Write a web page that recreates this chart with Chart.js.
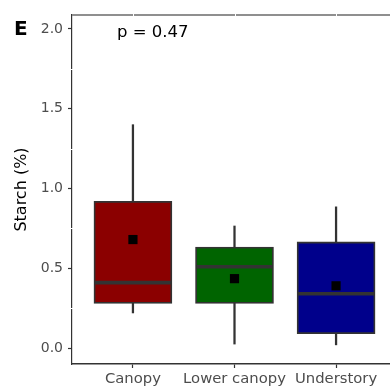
<!DOCTYPE html>
<html>
<head>
<meta charset="utf-8">
<script src="https://cdn.jsdelivr.net/npm/chart.js@4"></script>
<style>
  html, body { margin: 0; padding: 0; background: #fff; overflow: hidden; }
  #wrap { width: 400px; height: 390px; }
</style>
</head>
<body>
<div id="wrap"><canvas id="myChart" width="400" height="390"></canvas></div>
<script>
// data
const categories = ['Canopy', 'Lower canopy', 'Understory'];
const whiskerLow = [0.22, 0.025, 0.02];
const q1 = [0.28, 0.28, 0.09];
const medians = [0.41, 0.51, 0.34];
const q3 = [0.92, 0.633, 0.665];
const whiskerHigh = [1.40, 0.765, 0.885];
const means = [0.68, 0.435, 0.39];
const boxColors = ['#8b0000', '#006400', '#00008b'];
const yTicks = [0, 0.5, 1, 1.5, 2];
const pLabel = 'p = 0.47';
const panelLabel = 'E';

const FONT = "'DejaVu Sans', sans-serif";

function pos(i) { return i + 1; }

const extraDraw = {
    id: 'extraDraw',
    afterDraw(chart) {
        const ctx = chart.ctx;
        const area = chart.chartArea;
        const xs = chart.scales.x;
        const ys = chart.scales.y;
        ctx.save();
        // grey top border
        ctx.strokeStyle = '#8f8f8f';
        ctx.lineWidth = 2;
        ctx.beginPath();
        ctx.moveTo(area.left, area.top);
        ctx.lineTo(area.right, area.top);
        ctx.stroke();
        // white grid lines showing through the borders
        ctx.strokeStyle = '#ffffff';
        ctx.lineWidth = 1;
        categories.forEach((c, i) => {
            const x = Math.round(xs.getPixelForValue(pos(i))) + 0.5;
            ctx.beginPath();
            ctx.moveTo(x, area.top - 1.5);
            ctx.lineTo(x, area.top + 1.5);
            ctx.stroke();
        });
        [0.25, 0.75, 1.25, 1.75].forEach(v => {
            const y = Math.round(ys.getPixelForValue(v)) + 0.5;
            ctx.beginPath();
            ctx.moveTo(area.left - 1.5, y);
            ctx.lineTo(area.left + 1.5, y);
            ctx.stroke();
        });
        // panel letter and p value
        ctx.fillStyle = '#000';
        ctx.textBaseline = 'middle';
        ctx.textAlign = 'left';
        ctx.font = 'bold 20px ' + FONT;
        ctx.fillText(panelLabel, 14, 30);
        ctx.font = '16.5px ' + FONT;
        ctx.fillText(pLabel, 117, 33);
        ctx.restore();
    }
};

document.addEventListener('DOMContentLoaded', function() {
    const ctx = document.getElementById('myChart');
    const myChart = new Chart(ctx, {
        type: 'bar',
        data: {
            datasets: [
                {
                    label: 'whisker',
                    data: categories.map((c, i) => ({x: pos(i), y: [whiskerLow[i], whiskerHigh[i]]})),
                    backgroundColor: '#333333',
                    barThickness: 1.6,
                    grouped: false,
                    order: 3
                },
                {
                    label: 'box',
                    data: categories.map((c, i) => ({x: pos(i), y: [q1[i], q3[i]]})),
                    backgroundColor: boxColors,
                    borderColor: '#333333',
                    borderWidth: 1.8,
                    borderSkipped: false,
                    barThickness: 78,
                    grouped: false,
                    order: 2
                },
                {
                    type: 'line',
                    label: 'median',
                    data: categories.map((c, i) => ({x: pos(i), y: medians[i]})),
                    showLine: false,
                    pointStyle: 'line',
                    pointRadius: 38,
                    pointBorderWidth: 3.6,
                    pointBorderColor: '#333333',
                    order: 1
                },
                {
                    type: 'line',
                    label: 'mean',
                    data: categories.map((c, i) => ({x: pos(i), y: means[i]})),
                    showLine: false,
                    pointStyle: 'rect',
                    pointRadius: 6.5,
                    pointBackgroundColor: '#000000',
                    pointBorderWidth: 0,
                    order: 0
                }
            ]
        },
        options: {
            responsive: false,
            animation: false,
            devicePixelRatio: 1,
            layout: {autoPadding: false, padding: {left: 0, right: 3, top: 15, bottom: 0}},
            plugins: {
                legend: {display: false},
                tooltip: {enabled: false}
            },
            scales: {
                x: {
                    type: 'linear',
                    min: 0.4,
                    max: 3.6,
                    offset: false,
                    afterBuildTicks: function(scale) {
                        scale.ticks = categories.map((c, i) => ({value: pos(i)}));
                    },
                    afterFit: function(scale) { scale.height = 26; },
                    ticks: {
                        callback: function(value) { return categories[value - 1]; },
                        color: '#4d4d4d',
                        font: {family: FONT, size: 14.8},
                        padding: 2,
                        maxRotation: 0,
                        autoSkip: false
                    },
                    grid: {
                        offset: false,
                        drawOnChartArea: false,
                        tickLength: 4,
                        tickWidth: 1.2,
                        color: '#333333'
                    },
                    border: {color: '#333333', width: 1.5}
                },
                y: {
                    min: -0.1,
                    max: 2.0875,
                    afterBuildTicks: function(scale) {
                        scale.ticks = yTicks.map(v => ({value: v}));
                    },
                    afterFit: function(scale) { scale.width = 72; },
                    ticks: {
                        callback: function(value) { return value.toFixed(1); },
                        color: '#4d4d4d',
                        font: {family: FONT, size: 14},
                        padding: 5
                    },
                    grid: {
                        drawOnChartArea: false,
                        tickLength: 4,
                        tickWidth: 1.2,
                        color: '#333333'
                    },
                    border: {color: '#333333', width: 1.2},
                    title: {
                        display: true,
                        text: 'Starch (%)',
                        color: '#000000',
                        font: {family: FONT, size: 16},
                        padding: {top: 12, bottom: 0}
                    }
                }
            }
        },
        plugins: [extraDraw]
    });
});
</script>
</body>
</html>
